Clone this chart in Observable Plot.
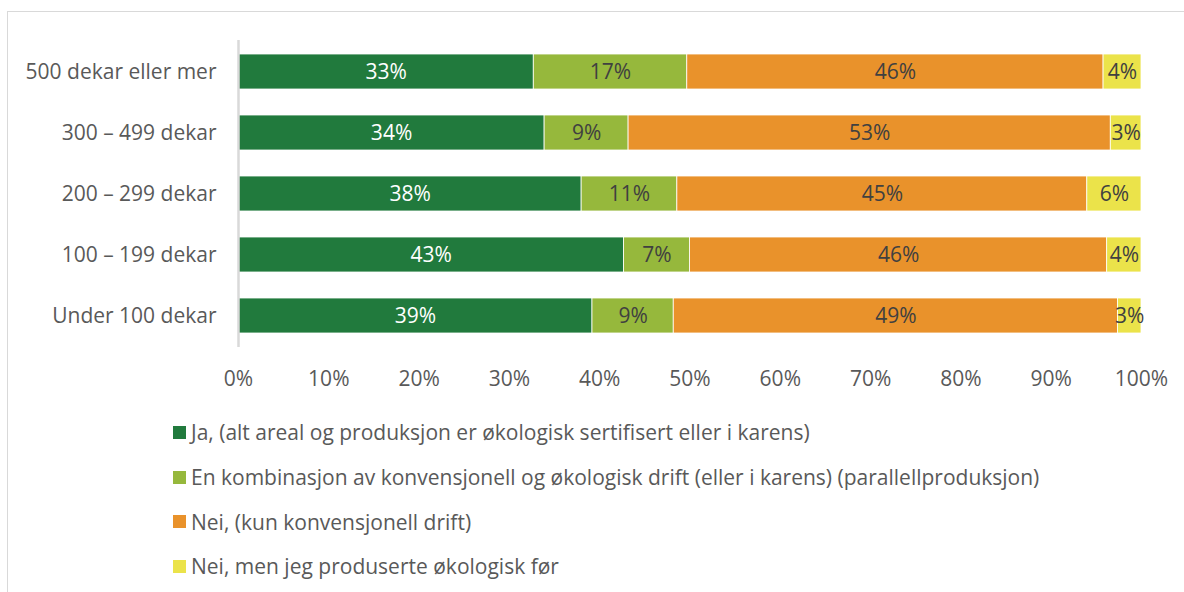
<!DOCTYPE html>
<html>
<head>
<meta charset="utf-8">
<script src="https://cdn.jsdelivr.net/npm/d3@7"></script>
<script src="https://cdn.jsdelivr.net/npm/@observablehq/plot@0.6"></script>
<style>
  body { margin: 0; background: #fff; font-family: "Open Sans", sans-serif; }
  #frame { position: absolute; left: 7px; top: 11px; width: 1190px; height: 700px; border: 1px solid #d9d9d9; box-sizing: border-box; }
  #chart { position: absolute; left: 0; top: 0; }
  #legend { position: absolute; left: 173px; top: 410px; color: #595959; font-size: 21px; }
  .item { display: flex; align-items: center; height: 44.7px; white-space: nowrap; }
  .sw { width: 13px; height: 13px; margin-right: 5px; flex: none; }
</style>
</head>
<body>
<div id="frame"></div>
<div id="chart"></div>
<div id="legend"></div>
<script>
const categories = ["500 dekar eller mer", "300 – 499 dekar", "200 – 299 dekar", "100 – 199 dekar", "Under 100 dekar"];
const seriesNames = [
  "Ja, (alt areal og produksjon er økologisk sertifisert eller i karens)",
  "En kombinasjon av konvensjonell og økologisk drift (eller i karens) (parallellproduksjon)",
  "Nei, (kun konvensjonell drift)",
  "Nei, men jeg produserte økologisk før"
];
const colors = ["#217a3d", "#96b83c", "#e9922b", "#ebe34a"];
const labelColors = ["#ffffff", "#404040", "#404040", "#404040"];
// values per series, in category order
const jaValues = [32.7, 33.9, 38.0, 42.7, 39.2];
const kombValues = [17.0, 9.3, 10.6, 7.3, 9.0];
const neiValues = [46.1, 53.4, 45.4, 46.2, 49.2];
const forValues = [4.2, 3.4, 6.0, 3.8, 2.6];
const xTicks = [0, 10, 20, 30, 40, 50, 60, 70, 80, 90, 100];

const seriesValues = [jaValues, kombValues, neiValues, forValues];
const data = [];
seriesNames.forEach((s, si) => {
  categories.forEach((c, ci) => {
    data.push({cat: c, series: s, si, value: seriesValues[si][ci]});
  });
});

const stackOpts = {x: "value", y: "cat", z: "series", order: seriesNames};

const plot = Plot.plot({
  width: 1184,
  height: 400,
  marginLeft: 238,
  marginRight: 43,
  marginTop: 40,
  marginBottom: 53,
  style: {fontFamily: "'Open Sans', sans-serif", fontSize: "21px", color: "#595959", background: "transparent"},
  x: {domain: [0, 100], ticks: xTicks, tickFormat: d => d + "%", tickSize: 0, tickPadding: 24, label: null},
  y: {domain: categories, paddingInner: 0.43, paddingOuter: 0.215, tickSize: 0, tickPadding: 22, label: null},
  color: {domain: seriesNames, range: colors},
  marks: [
    Plot.barX(data, Plot.stackX({...stackOpts, fill: "series", stroke: "#ffffff", strokeWidth: 0.8})),
    Plot.ruleX([0], {stroke: "#d9d9d9", strokeWidth: 2.5, y1: null, y2: null}),
    Plot.text(data, Plot.stackX({...stackOpts, text: d => Math.round(d.value) + "%", fill: d => labelColors[d.si], fontSize: 21}))
  ]
});
document.getElementById("chart").appendChild(plot);

const legend = document.getElementById("legend");
seriesNames.forEach((s, i) => {
  const item = document.createElement("div");
  item.className = "item";
  const sw = document.createElement("span");
  sw.className = "sw";
  sw.style.background = colors[i];
  const t = document.createElement("span");
  t.textContent = s;
  item.appendChild(sw);
  item.appendChild(t);
  legend.appendChild(item);
});
</script>
</body>
</html>
